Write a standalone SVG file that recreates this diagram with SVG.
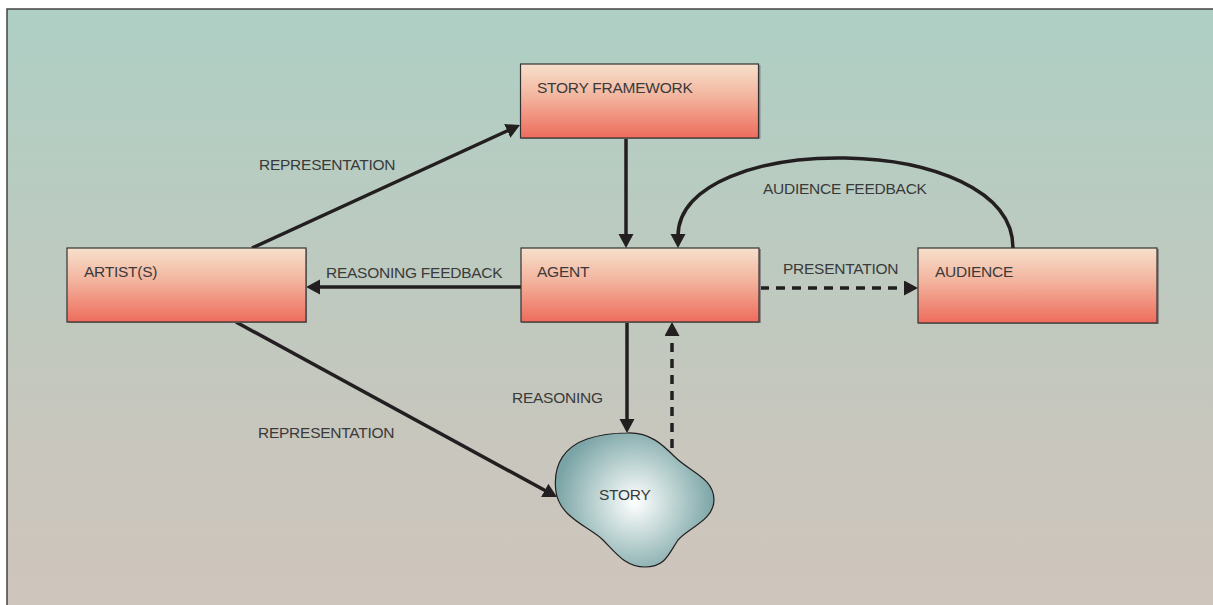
<svg xmlns="http://www.w3.org/2000/svg" width="1213" height="605" viewBox="0 0 1213 605">
  <style>
    .box { fill: url(#boxGrad); stroke: #333; stroke-width: 1.2; }
    .shadow { fill: #8a8a8a; }
    .lbl { font-family: "Liberation Sans", Arial, Helvetica, sans-serif; font-size: 15.5px; fill: #3a3a3a; letter-spacing: -0.25px; }
    .conn { fill: none; stroke: #231f20; stroke-width: 3.5; }
    .dash { stroke-dasharray: 9 7; }
  </style>
  <defs>
    <linearGradient id="bgGrad" x1="0" y1="0" x2="0" y2="1">
      <stop offset="0" stop-color="#aecfc4"/>
      <stop offset="0.5" stop-color="#c0c9bf"/>
      <stop offset="0.75" stop-color="#c9c6bd"/>
      <stop offset="1" stop-color="#cfc5bc"/>
    </linearGradient>
    <linearGradient id="boxGrad" x1="0" y1="0" x2="0" y2="1">
      <stop offset="0" stop-color="#f6e0cc"/>
      <stop offset="0.45" stop-color="#f3b39d"/>
      <stop offset="1" stop-color="#ee6c5c"/>
    </linearGradient>
    <radialGradient id="storyGrad" cx="635" cy="502" r="80" gradientUnits="userSpaceOnUse">
      <stop offset="0" stop-color="#ffffff"/>
      <stop offset="0.45" stop-color="#c2d7d6"/>
      <stop offset="1" stop-color="#7aa3a5"/>
    </radialGradient>
    <marker id="arr" markerUnits="userSpaceOnUse" markerWidth="14" markerHeight="16" refX="2" refY="7.5" orient="auto">
      <path d="M0,0 L14,7.5 L0,15 Z" fill="#231f20"/>
    </marker>
  </defs>

  <rect x="0" y="0" width="1213" height="605" fill="#ffffff"/>
  <rect x="7" y="9" width="1215" height="605" fill="url(#bgGrad)" stroke="#444" stroke-width="1.5"/>

  <g id="connectors">
    <line class="conn" x1="252" y1="248" x2="509.1" y2="130" marker-end="url(#arr)"/>
    <line class="conn" x1="626" y1="138" x2="626" y2="236" marker-end="url(#arr)"/>
    <path class="conn" d="M1013,248 C1013,130 678,130 678,236" marker-end="url(#arr)"/>
    <line class="conn" x1="521" y1="287" x2="318" y2="287" marker-end="url(#arr)"/>
    <line class="conn dash" x1="760" y1="288" x2="906" y2="288" marker-end="url(#arr)"/>
    <line class="conn" x1="627" y1="322" x2="627" y2="421" marker-end="url(#arr)"/>
    <line class="conn dash" x1="672" y1="448" x2="672" y2="334" marker-end="url(#arr)"/>
    <line class="conn" x1="236" y1="322" x2="546.5" y2="491.3" marker-end="url(#arr)"/>
  </g>

  <g id="labels">
    <text class="lbl" x="259" y="170">REPRESENTATION</text>
    <text class="lbl" x="326" y="278">REASONING FEEDBACK</text>
    <text class="lbl" x="763" y="194">AUDIENCE FEEDBACK</text>
    <text class="lbl" x="783" y="274">PRESENTATION</text>
    <text class="lbl" x="512" y="403">REASONING</text>
    <text class="lbl" x="258" y="438">REPRESENTATION</text>
  </g>

  <g id="story-framework">
    <rect class="shadow" x="521.5" y="65" width="239" height="74"/>
    <rect class="box" x="520.5" y="64" width="238" height="74"/>
    <text class="lbl" x="537" y="93">STORY FRAMEWORK</text>
  </g>

  <g id="artists">
    <rect class="shadow" x="68" y="249" width="239" height="74"/>
    <rect class="box" x="67" y="248" width="239" height="74"/>
    <text class="lbl" x="84" y="277">ARTIST(S)</text>
  </g>

  <g id="agent">
    <rect class="shadow" x="522" y="249" width="239" height="74"/>
    <rect class="box" x="521" y="248" width="238" height="74"/>
    <text class="lbl" x="537" y="277">AGENT</text>
  </g>

  <g id="audience">
    <rect class="shadow" x="919" y="249" width="240" height="75"/>
    <rect class="box" x="918" y="248" width="239" height="75"/>
    <text class="lbl" x="935" y="277">AUDIENCE</text>
  </g>

  <g id="story">
    <path d="M627,433 C650,432 663,445 675,457 C690,472 714,478 714,500 C714,520 688,528 678,540 C668,555 665,567 645,567 C625,567 615,552 603,540 C590,527 560,518 556,492 C552,462 567,446 587,439 C602,434 613,433 627,433 Z" fill="url(#storyGrad)" stroke="#231f20" stroke-width="1.2"/>
    <text class="lbl" x="599" y="500">STORY</text>
  </g>
</svg>
